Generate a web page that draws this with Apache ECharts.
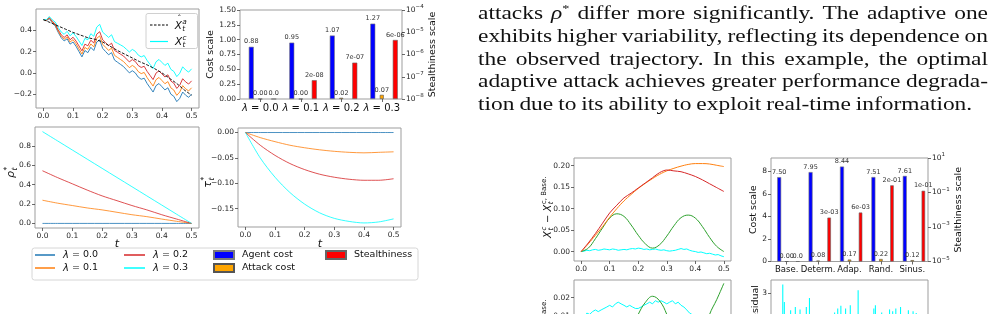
<!DOCTYPE html>
<html>
<head>
<meta charset="utf-8">
<script src="https://cdn.jsdelivr.net/npm/echarts@6/dist/echarts.min.js"></script>
<style>
  html, body { margin: 0; padding: 0; background: #fff; }
  #root { width: 991px; height: 314px; }
</style>
</head>
<body>
<div id="root"></div>
<script>
// ---- data ----
const tFine = [0,0.01,0.02,0.03,0.04,0.05,0.06,0.07,0.08,0.09,0.1,0.11,0.12,0.13,0.14,0.15,0.16,0.17,0.18,0.19,0.2,0.21,0.22,0.23,0.24,0.25,0.26,0.27,0.28,0.29,0.3,0.31,0.32,0.33,0.34,0.35,0.36,0.37,0.38,0.39,0.4,0.41,0.42,0.43,0.44,0.45,0.46,0.47,0.48,0.49,0.5];
const tMid = [0,0.025,0.05,0.075,0.1,0.125,0.15,0.175,0.2,0.225,0.25,0.275,0.3,0.325,0.35,0.375,0.4,0.425,0.45,0.475,0.5];
const tCoarse = [0,0.05,0.1,0.15,0.2,0.25,0.3,0.35,0.4,0.45,0.5];

// top-left: controlled state paths for each lambda, and the filter estimate
const pathL0 = [0.50,0.49,0.51,0.47,0.44,0.38,0.33,0.30,0.32,0.27,0.29,0.25,0.20,0.15,0.21,0.19,0.24,0.21,0.29,0.31,0.23,0.20,0.17,0.19,0.12,0.10,0.08,0.06,0.03,0.00,0.02,0.00,-0.04,-0.06,-0.05,-0.10,-0.14,-0.18,-0.12,-0.10,-0.13,-0.16,-0.14,-0.20,-0.22,-0.27,-0.24,-0.18,-0.21,-0.23,-0.20];
const pathL1 = [0.500,0.492,0.515,0.477,0.449,0.391,0.344,0.316,0.338,0.290,0.312,0.274,0.225,0.177,0.239,0.221,0.272,0.244,0.325,0.347,0.268,0.240,0.211,0.233,0.164,0.145,0.126,0.107,0.078,0.049,0.070,0.051,0.012,-0.007,0.004,-0.045,-0.085,-0.124,-0.064,-0.043,-0.072,-0.102,-0.082,-0.141,-0.161,-0.211,-0.180,-0.120,-0.150,-0.170,-0.140];
const pathL2 = [0.500,0.495,0.520,0.485,0.459,0.404,0.358,0.333,0.357,0.311,0.335,0.299,0.253,0.207,0.270,0.254,0.307,0.281,0.364,0.387,0.310,0.283,0.256,0.279,0.211,0.194,0.176,0.159,0.131,0.103,0.125,0.107,0.069,0.051,0.062,0.014,-0.025,-0.063,-0.002,0.019,-0.010,-0.039,-0.018,-0.077,-0.097,-0.146,-0.116,-0.055,-0.085,-0.105,-0.075];
const pathL3 = [0.500,0.499,0.529,0.498,0.477,0.425,0.384,0.362,0.390,0.348,0.376,0.343,0.300,0.257,0.324,0.311,0.368,0.344,0.430,0.456,0.382,0.358,0.333,0.358,0.293,0.278,0.263,0.247,0.222,0.196,0.220,0.203,0.167,0.150,0.163,0.116,0.079,0.041,0.104,0.126,0.098,0.070,0.091,0.033,0.014,-0.035,-0.004,0.057,0.027,0.007,0.038];
const filterHat = [0.50,0.47,0.44,0.41,0.38,0.355,0.33,0.315,0.29,0.25,0.21,0.175,0.14,0.105,0.075,0.04,0.0,-0.05,-0.10,-0.16,-0.21];

// bottom-left: rho*, bottom-middle: tau*
const rhoL0 = [0,0,0,0,0,0,0,0,0,0,0];
const rhoL1 = [0.24,0.21,0.185,0.16,0.14,0.115,0.09,0.07,0.045,0.022,0];
const rhoL2 = [0.545,0.475,0.41,0.345,0.285,0.235,0.185,0.14,0.09,0.045,0];
const rhoL3 = [0.95,0.855,0.76,0.665,0.57,0.475,0.38,0.285,0.19,0.095,0];
const tauL0 = [0,0,0,0,0,0,0,0,0,0,0];
const tauL1 = [0,-0.01,-0.018,-0.025,-0.03,-0.034,-0.037,-0.039,-0.04,-0.039,-0.038];
const tauL2 = [0,-0.025,-0.045,-0.061,-0.073,-0.082,-0.088,-0.092,-0.094,-0.094,-0.091];
const tauL3 = [0,-0.05,-0.088,-0.118,-0.141,-0.158,-0.169,-0.175,-0.178,-0.176,-0.17];

// top-middle bars
const lambdaCats = ['λ = 0.0', 'λ = 0.1', 'λ = 0.2', 'λ = 0.3'];
const agentCostL = [0.88, 0.95, 1.07, 1.27];
const attackCostL = [0.00, 0.00, 0.02, 0.07];
const stealthL = [1e-8, 7e-8, 4.3e-7, 4.5e-6];
const stealthLabelsL = ['0.0', '2e-08', '7e-07', '6e-06'];

// right bars
const attackCats = ['Base.', 'Determ.', 'Adap.', 'Rand.', 'Sinus.'];
const agentCostA = [7.50, 7.95, 8.44, 7.51, 7.61];
const attackCostA = [0.00, 0.08, 0.17, 0.22, 0.12];
const stealthA = [1e-5, 3.5e-3, 6.9e-3, 0.26, 0.126];
const stealthLabelsA = ['0.0', '3e-03', '6e-03', '2e-01', '1e-01'];

// right lines: X^c - X^c,Base
const diffDeterm = [0,0.018,0.038,0.058,0.08,0.1,0.118,0.133,0.147,0.159,0.17,0.18,0.188,0.194,0.199,0.203,0.205,0.205,0.204,0.201,0.198];
const diffAdap = [0,0.02,0.042,0.066,0.09,0.108,0.125,0.136,0.148,0.16,0.172,0.184,0.19,0.188,0.186,0.181,0.175,0.167,0.158,0.149,0.14];
const diffSinus = [0,0.008,0.03,0.055,0.078,0.088,0.082,0.062,0.038,0.018,0.008,0.016,0.036,0.06,0.079,0.085,0.078,0.058,0.033,0.012,0];
const diffRand = [0,0.001,0.003,0.002,0.004,0.005,0.003,0.004,0.006,0.005,0.004,0.006,0.005,0.003,0.004,0.005,0.004,0.006,0.007,0.006,0.008,0.007,0.005,0.006,0.004,0.005,0.006,0.004,0.003,0.004,0.002,0.001,0.002,0.003,0.005,0.007,0.005,0.006,0.003,0.001,0.000,-0.002,-0.001,-0.003,-0.005,-0.004,-0.006,-0.008,-0.007,-0.010,-0.012];
// lower (cut-off) panels
const lowSinus = [0,-0.006,-0.012,-0.016,-0.017,-0.014,-0.008,0.002,0.011,0.0175,0.0208,0.0183,0.011,0.0,-0.009,-0.014,-0.012,-0.002,0.011,0.019,0.0278];
const lowRand = [0.007,0.009,0.0117,0.011,0.0125,0.0134,0.0125,0.0134,0.0142,0.015,0.0159,0.015,0.0167,0.0176,0.0167,0.0159,0.015,0.0159,0.015,0.0142,0.0142,0.015,0.0159,0.0167,0.0176,0.0167,0.0184,0.0176,0.0184,0.0176,0.0167,0.0176,0.0184,0.0167,0.0176,0.0159,0.015,0.0134,0.0117,0.0108,0.009,0.0083,0.0075,0.0083,0.0066,0.0058,0.005,0.004,0.005,0.003,0.002];
const residuals = [1.2,0.8,1.5,0.6,1.1,1.7,0.9,3.28,2.70,1.3,0.7,1.6,2.42,1.0,0.5,2.53,1.4,0.9,2.45,1.2,0.6,1.8,2.53,1.1,2.83,0.8,1.5,0.4,1.2,1.7,0.9,0.6,1.3,1.8,0.7,1.1,1.6,0.5,1.4,1.0,2.35,1.5,2.48,1.2,2.57,0.8,1.6,2.48,1.1,1.7,2.59,0.9,1.4,0.6,1.8,3.09,1.2,0.7,1.5,1.0,1.7,0.5,1.3,1.8,0.9,2.48,2.59,1.1,0.6,1.6,2.35,1.3,0.8,1.7,1.2,2.45,1.4,2.39,0.9,2.48,1.5,1.0,2.53,1.6,0.7,1.3,1.8,2.42,1.1,0.6,2.39,1.4,2.33,1.7,0.9,1.5,1.2,1.8,0.8,1.3];

const tTicks = [0, 0.1, 0.2, 0.3, 0.4, 0.5];

const paragraph = [
  'attacks ρ* differ more significantly. The adaptive one',
  'exhibits higher variability, reflecting its dependence on',
  'the observed trajectory. In this example, the optimal',
  'adaptive attack achieves greater performance degrada-',
  'tion due to its ability to exploit real-time information.'
];

// ---- helpers ----
const FONT = 'DejaVu Sans';
const lamColors = ['#1f77b4', '#ff7f0e', '#d62728', '#00ffff'];
const minus = s => s.replace('-', '−');
const pair = (ts, vs) => ts.map((t, i) => [t, vs[i]]);

const tickLabel = { fontFamily: FONT, fontSize: 7.5, color: '#262626', margin: 4 };
const tickLine = { show: true, length: 3, lineStyle: { color: '#444', width: 0.8 } };
const noLine = { show: false, onZero: false };
const nameStyle = { fontFamily: FONT, fontSize: 9.5, color: '#111' };

function tAxis(gi, showLabels) {
  return {
    type: 'value', gridIndex: gi, min: -0.025, max: 0.525,
    axisLine: noLine, splitLine: { show: false },
    axisTick: Object.assign({ customValues: tTicks }, tickLine),
    axisLabel: Object.assign({ show: showLabels !== false, customValues: tTicks, formatter: v => v.toFixed(1) }, tickLabel)
  };
}
function valAxis(gi, min, max, ticks, dec, extra) {
  return Object.assign({
    type: 'value', gridIndex: gi, min: min, max: max,
    axisLine: noLine, splitLine: { show: false },
    axisTick: Object.assign({ customValues: ticks }, tickLine),
    axisLabel: Object.assign({ customValues: ticks, formatter: v => minus(v.toFixed(dec)) }, tickLabel)
  }, extra || {});
}
function logAxis(gi, min, max, ticks, name, gap) {
  return {
    type: 'log', logBase: 10, gridIndex: gi, position: 'right', min: min, max: max, startValue: min,
    axisLine: noLine, splitLine: { show: false },
    axisTick: Object.assign({ customValues: ticks }, tickLine),
    axisLabel: Object.assign({
      customValues: ticks,
      formatter: v => '{b|10}{e|' + minus(String(Math.round(Math.log10(v)))) + '}',
      rich: { b: { fontFamily: FONT, fontSize: 7.5, color: '#262626' }, e: { fontFamily: FONT, fontSize: 5.5, color: '#262626', padding: [0, 0, 6, 0] } }
    }, tickLabel),
    name: name, nameLocation: 'middle', nameGap: gap, nameTextStyle: nameStyle
  };
}
function lineSeries(name, xi, yi, data, color, extra) {
  return Object.assign({
    type: 'line', name: name, xAxisIndex: xi, yAxisIndex: yi, data: data,
    symbol: 'none', showSymbol: false, silent: true,
    lineStyle: { width: 1, color: color }, itemStyle: { color: color }
  }, extra || {});
}
const barLabel = fmt => ({ show: true, position: 'top', distance: 1.5, fontFamily: FONT, fontSize: 6.5, color: '#333', formatter: fmt });
function spacer(xi, yi, w, n) {
  return { type: 'bar', xAxisIndex: xi, yAxisIndex: yi, barWidth: w, barGap: '90%', data: new Array(n).fill('-'), silent: true };
}

// text measuring for math-style labels and the justified paragraph
const mctx = document.createElement('canvas').getContext('2d');
function textW(s, size, italic, family) {
  mctx.font = (italic ? 'italic ' : '') + size + 'px "' + (family || FONT) + '"';
  return mctx.measureText(s).width;
}
function mathGroup(pieces, size, cx, cy, rot) {
  let x = 0;
  const kids = [];
  const txt = (tx, ty, text, fs, italic, align) => ({ type: 'text', x: tx, y: ty, z: 20,
    style: { text: text, fontFamily: FONT, fontSize: fs, fontStyle: italic ? 'italic' : 'normal', fill: '#111', align: align || 'left', verticalAlign: 'middle' } });
  pieces.forEach(p => {
    if (p.b !== undefined) {
      kids.push(txt(x, 0, p.b, size, p.it));
      if (p.hat) kids.push(txt(x + size * 0.45, -size * 0.62, 'ˆ', size * 0.8, false, 'center'));
      x += textW(p.b, size, p.it);
    } else {
      const s = size * 0.7;
      let w = 0;
      if (p.sup) {
        kids.push(txt(x + 0.5, -size * 0.4, p.sup, s, p.supIt));
        w = Math.max(w, textW(p.sup, s, p.supIt));
      }
      if (p.sub) {
        kids.push(txt(x + 0.5, size * 0.32, p.sub, s, true));
        w = Math.max(w, textW(p.sub, s, true));
      }
      x += w + 1;
    }
  });
  kids.forEach(k => { k.x -= x / 2; });
  return { type: 'group', x: cx, y: cy, rotation: rot || 0, children: kids, z: 20 };
}
function paragraphElements() {
  const els = [];
  const size = 18, fam = 'Liberation Serif', supSize = 11;
  const x0 = 478, x1 = 988, y0 = 14, lh = 22.9;
  const wordW = w => (w === 'ρ*' ? textW('ρ', size, true, fam) + textW('*', supSize, false, fam) : textW(w, size, false, fam));
  const space = textW(' ', size, false, fam);
  // glyph stretch (Computer Modern runs wider than Times); the tightest justified line keeps ordinary spaces
  const stretches = paragraph.slice(0, -1).map(line => {
    const words = line.split(' ');
    const sum = words.reduce((a, w) => a + wordW(w), 0);
    return (x1 - x0 - (words.length - 1) * space * 1.1) / sum;
  });
  const sx = Math.min.apply(null, stretches);
  paragraph.forEach((line, li) => {
    const words = line.split(' ');
    const widths = words.map(w => wordW(w) * sx);
    const sum = widths.reduce((a, b) => a + b, 0);
    const justify = li < paragraph.length - 1;
    const gap = justify ? (x1 - x0 - sum) / (words.length - 1) : space * 1.1;
    let x = x0;
    words.forEach((w, wi) => {
      const style = { fontFamily: fam, fontSize: size, fill: '#111', align: 'left', verticalAlign: 'middle' };
      if (w === 'ρ*') {
        style.text = '{i|ρ}{s|*}';
        style.rich = { i: { fontFamily: fam, fontSize: size, fontStyle: 'italic', fill: '#111' }, s: { fontFamily: fam, fontSize: supSize, fill: '#111', padding: [0, 0, 9, 0] } };
      } else {
        style.text = w;
      }
      els.push({ type: 'text', x: x, y: y0 + li * lh, scaleX: sx, style: style, z: 20 });
      x += widths[wi] + gap;
    });
  });
  return els;
}

// ---- chart ----
const root = document.getElementById('root');
const chart = echarts.init(root, null, { renderer: 'canvas' });

const gridStyle = { show: true, borderColor: '#9d9d9d', borderWidth: 1, backgroundColor: 'transparent', containLabel: false, outerBoundsMode: 'none' };
const grids = [
  { left: 36, top: 9, width: 163, height: 99 },      // 0 paths
  { left: 240, top: 10, width: 162, height: 89 },    // 1 lambda bars
  { left: 35, top: 127, width: 164, height: 101 },   // 2 rho
  { left: 238, top: 128, width: 163, height: 99 },   // 3 tau
  { left: 574, top: 158, width: 157, height: 103 },  // 4 diff
  { left: 771, top: 158, width: 157, height: 103.5 },// 5 attack bars
  { left: 574, top: 280, width: 157, height: 100 },  // 6 lower diff (cut)
  { left: 771, top: 280, width: 157, height: 103 }   // 7 residual (cut)
].map(g => Object.assign({}, gridStyle, g));

const lamRich = { i: { fontStyle: 'italic', fontFamily: FONT, fontSize: 10, color: '#111' } };
const lamFmt = v => v.startsWith('λ') ? '{i|λ}' + v.slice(1) : v;

const xAxes = [
  tAxis(0),
  { type: 'category', gridIndex: 1, data: lambdaCats, axisLine: noLine,
    axisTick: Object.assign({ alignWithLabel: true, interval: 0 }, tickLine),
    axisLabel: { interval: 0, fontFamily: FONT, fontSize: 10, color: '#111', margin: 4, formatter: lamFmt, rich: lamRich } },
  tAxis(2),
  tAxis(3),
  tAxis(4),
  { type: 'category', gridIndex: 5, data: attackCats, axisLine: noLine,
    axisTick: Object.assign({ alignWithLabel: true, interval: 0 }, tickLine),
    axisLabel: { interval: 0, fontFamily: FONT, fontSize: 8.5, color: '#111', margin: 4 } },
  tAxis(6, false),
  { type: 'category', gridIndex: 7, data: residuals.map((_, i) => i), axisLine: noLine, axisTick: { show: false }, axisLabel: { show: false } }
];

const yAxes = [
  valAxis(0, -0.33, 0.6, [-0.2, 0, 0.2, 0.4], 1),
  valAxis(1, 0, 1.5, [0, 0.25, 0.5, 0.75, 1, 1.25, 1.5], 2,
    { name: 'Cost scale', nameLocation: 'middle', nameGap: 22, nameTextStyle: nameStyle }),
  logAxis(1, 1e-8, 1e-4, [1e-8, 1e-7, 1e-6, 1e-5, 1e-4], 'Stealthiness scale', 15),
  valAxis(2, -0.0475, 0.9975, [0, 0.2, 0.4, 0.6, 0.8], 1),
  valAxis(3, -0.186, 0.0089, [-0.15, -0.1, -0.05, 0], 2),
  valAxis(4, -0.022, 0.218, [0, 0.05, 0.1, 0.15, 0.2], 2),
  valAxis(5, 0, 9.2, [0, 2, 4, 6, 8], 0,
    { name: 'Cost scale', nameLocation: 'middle', nameGap: 10, nameTextStyle: nameStyle }),
  logAxis(5, 1e-5, 10, [1e-5, 1e-3, 1e-1, 10], 'Stealthiness scale', 24),
  valAxis(6, -0.0245, 0.0296, [-0.02, -0.01, 0, 0.01, 0.02], 2),
  valAxis(7, 0, 3.43, [0, 1, 2, 3], 0)
];

const lamNames = lambdaCats;
const series = [];
// paths
[pathL0, pathL1, pathL2, pathL3].forEach((p, i) => series.push(lineSeries(lamNames[i], 0, 0, pair(tFine, p), lamColors[i], { lineStyle: { width: 0.9, color: lamColors[i] } })));
series.push(lineSeries('filter', 0, 0, pair(tMid, filterHat), '#000', { lineStyle: { width: 0.9, color: '#000', type: [3, 1.5] } }));
// rho and tau
[rhoL0, rhoL1, rhoL2, rhoL3].forEach((p, i) => series.push(lineSeries(lamNames[i], 2, 3, pair(tCoarse, p), lamColors[i], { smooth: 0.3, lineStyle: { width: 1, color: lamColors[i], opacity: 0.8 } })));
[tauL0, tauL1, tauL2, tauL3].forEach((p, i) => series.push(lineSeries(lamNames[i], 3, 4, pair(tCoarse, p), lamColors[i], { smooth: 0.3, lineStyle: { width: 1, color: lamColors[i], opacity: 0.8 } })));
// lambda bars: spacer, agent, attack, spacer, stealth
series.push(spacer(1, 1, 2.4, 4));
series.push({ type: 'bar', name: 'Agent cost', xAxisIndex: 1, yAxisIndex: 1, data: agentCostL, barWidth: 5, barGap: '90%',
  itemStyle: { color: '#0000ff', borderColor: '#7a7a7a', borderWidth: 0.6 }, label: barLabel(p => p.value.toFixed(2)) });
series.push({ type: 'bar', name: 'Attack cost', xAxisIndex: 1, yAxisIndex: 1, data: attackCostL, barWidth: 4, barGap: '90%',
  itemStyle: { color: '#ffa500', borderColor: '#555', borderWidth: 0.6 }, label: barLabel(p => p.value.toFixed(2)) });
series.push(spacer(1, 1, 2.84, 4));
series.push({ type: 'bar', name: 'Stealthiness', xAxisIndex: 1, yAxisIndex: 2, data: stealthL, barWidth: 5, barGap: '90%',
  itemStyle: { color: '#ff0000', borderColor: '#666', borderWidth: 0.6 }, label: barLabel(p => stealthLabelsL[p.dataIndex]) });
// attack-type bars
series.push(spacer(5, 6, 1.7, 5));
series.push({ type: 'bar', name: 'Agent cost', xAxisIndex: 5, yAxisIndex: 6, data: agentCostA, barWidth: 4, barGap: '94%',
  itemStyle: { color: '#0000ff', borderColor: '#7a7a7a', borderWidth: 0.6 }, label: barLabel(p => p.value.toFixed(2)) });
series.push({ type: 'bar', name: 'Attack cost', xAxisIndex: 5, yAxisIndex: 6, data: attackCostA, barWidth: 3.5, barGap: '94%',
  itemStyle: { color: '#ffa500', borderColor: '#555', borderWidth: 0.6 }, label: barLabel(p => p.value.toFixed(2)) });
series.push(spacer(5, 6, 2.2, 5));
series.push({ type: 'bar', name: 'Stealthiness', xAxisIndex: 5, yAxisIndex: 7, data: stealthA, barWidth: 3.5, barGap: '94%',
  itemStyle: { color: '#ff0000', borderColor: '#666', borderWidth: 0.6 }, label: barLabel(p => stealthLabelsA[p.dataIndex]) });
// difference to baseline
series.push(lineSeries('Rand.', 4, 5, pair(tFine, diffRand), '#00ffff'));
series.push(lineSeries('Sinus.', 4, 5, pair(tMid, diffSinus), '#2ca02c', { smooth: 0.4 }));
series.push(lineSeries('Determ.', 4, 5, pair(tMid, diffDeterm), '#ff7f0e', { smooth: 0.4 }));
series.push(lineSeries('Adap.', 4, 5, pair(tMid, diffAdap), '#d62728', { smooth: 0.3 }));
series.push(lineSeries('Rand.', 6, 8, pair(tFine, lowRand), '#00ffff'));
series.push(lineSeries('Sinus.', 6, 8, pair(tMid, lowSinus), '#2ca02c', { smooth: 0.4 }));
series.push({ type: 'bar', name: 'Residual', xAxisIndex: 7, yAxisIndex: 9, data: residuals, barWidth: 1.1, itemStyle: { color: '#00ffff' }, silent: true });

const legendText = { fontFamily: FONT, fontSize: 9.5, color: '#111', padding: [0, 0, 0, 3], rich: lamRich };
const legends = [
  { data: [lamNames[0], lamNames[1]], left: 35, top: 250, itemWidth: 20, itemHeight: 1.5, icon: 'rect' },
  { data: [lamNames[2], lamNames[3]], left: 124, top: 250, itemWidth: 21, itemHeight: 1.5, icon: 'rect' },
  { data: ['Agent cost', 'Attack cost'], left: 213, top: 250, itemWidth: 20, itemHeight: 8, icon: 'rect' },
  { data: ['Stealthiness'], left: 325, top: 250, itemWidth: 20, itemHeight: 8, icon: 'rect' }
].map(l => Object.assign({ orient: 'vertical', itemGap: 3, padding: 0, selectedMode: false, formatter: lamFmt, textStyle: legendText }, l));

const graphics = [
  // main legend frame
  { type: 'rect', shape: { x: 32, y: 248, width: 386, height: 32, r: 2.5 }, style: { fill: '#fff', stroke: '#d6d6d6', lineWidth: 1 }, z: -1 },
  // legend inside the path panel
  { type: 'rect', shape: { x: 146, y: 13.5, width: 51.5, height: 35, r: 2 }, style: { fill: 'rgba(255,255,255,0.85)', stroke: '#d0d0d0', lineWidth: 1 }, z: 15 },
  { type: 'line', shape: { x1: 150, y1: 25, x2: 168, y2: 25 }, style: { stroke: '#000', lineWidth: 1, lineDash: [2.5, 1.5] }, z: 16 },
  { type: 'line', shape: { x1: 150, y1: 41.5, x2: 168, y2: 41.5 }, style: { stroke: '#00ffff', lineWidth: 1.2 }, z: 16 },
  mathGroup([{ b: 'X', it: true, hat: true }, { sup: 'a', sub: 't', supIt: true }], 10.5, 181, 26),
  mathGroup([{ b: 'X', it: true }, { sup: 'c', sub: 't', supIt: true }], 10.5, 181, 42),
  // axis labels
  mathGroup([{ b: 'ρ', it: true }, { sup: '*', sub: 't' }], 11, 11, 172, Math.PI / 2),
  mathGroup([{ b: 't', it: true }], 11, 117, 244),
  mathGroup([{ b: 'τ', it: true }, { sup: '*', sub: 't' }], 11, 208, 182, Math.PI / 2),
  mathGroup([{ b: 't', it: true }], 11, 320, 244),
  mathGroup([{ b: 'X', it: true }, { sup: 'c', sub: 't', supIt: true }, { b: ' − ' }, { b: 'X', it: true }, { sup: 'c, Base.', sub: 't', supIt: false }], 10, 548, 207, Math.PI / 2),
  mathGroup([{ b: 'X', it: true }, { sup: 'c', sub: 't', supIt: true }, { b: ' − ' }, { b: 'X', it: true }, { sup: 'c, Base.', sub: 't', supIt: false }], 10, 548, 330, Math.PI / 2),
  // residual panel label, only its top end is on the page
  { type: 'text', x: 756, y: 285, rotation: Math.PI / 2, z: 20,
    style: { text: 'Residual', fontFamily: FONT, fontSize: 9.5, fill: '#111', align: 'right', verticalAlign: 'middle' } }
].concat(paragraphElements());

chart.setOption({
  animation: false,
  textStyle: { fontFamily: FONT },
  grid: grids,
  xAxis: xAxes,
  yAxis: yAxes,
  legend: legends,
  series: series,
  graphic: graphics
});
</script>
</body>
</html>
